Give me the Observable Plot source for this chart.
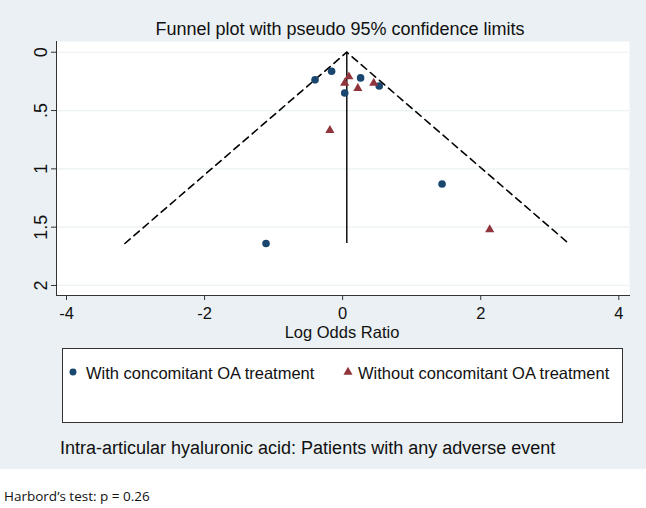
<!DOCTYPE html>
<html>
<head>
<meta charset="utf-8">
<script src="https://cdn.jsdelivr.net/npm/d3@7"></script>
<script src="https://cdn.jsdelivr.net/npm/@observablehq/plot@0.6"></script>
<style>
  body { margin: 0; background: #ffffff; }
  #wrap { position: relative; width: 646px; height: 508px; overflow: hidden; font-family: "Liberation Sans", Arial, sans-serif; }
  #bg { position: absolute; left: 0; top: 0; width: 646px; height: 469px; background: #eaf0f3; }
  #chart { position: absolute; left: 0; top: 0; }
  .abs { position: absolute; white-space: nowrap; color: #111; line-height: 1; }
  #title { left: 0; width: 680px; top: 20px; text-align: center; font-size: 18px; }
  #xlabel { left: 0; width: 684px; top: 324px; text-align: center; font-size: 16.5px; }
  #legend { left: 62px; top: 348px; width: 559px; height: 73px; background: #fff; border: 1px solid #333; }
  #caption { left: 60px; top: 439px; font-size: 18px; }
  #note { left: 4px; top: 490px; font-size: 13.5px; font-family: "Open Sans", "Noto Sans", sans-serif; color: #111; }
  .leg { position: absolute; top: 16px; font-size: 16.5px; line-height: 1; }
</style>
</head>
<body>
<div id="wrap">
  <div id="bg"></div>
  <div id="chart"></div>
  <div class="abs" id="title"></div>
  <div class="abs" id="xlabel"></div>
  <div class="abs" id="legend"></div>
  <div class="abs" id="caption"></div>
  <div class="abs" id="note"></div>
</div>
<script>
// ---- data ----
const titleText = "Funnel plot with pseudo 95% confidence limits";
const xLabelText = "Log Odds Ratio";
const captionText = "Intra-articular hyaluronic acid: Patients with any adverse event";
const noteText = "Harbord\u2019s test: p = 0.26";
const seriesNames = ["With concomitant OA treatment", "Without concomitant OA treatment"];
const seriesColors = ["#1a476f", "#90353b"];

// With concomitant OA treatment (circles): log odds ratio, standard error
const withLogOR = [-0.40, -0.16, 0.26, 0.53, 0.03, 1.44, -1.11];
const withSE    = [0.237, 0.163, 0.22, 0.29, 0.35, 1.13, 1.64];
// Without concomitant OA treatment (triangles)
const withoutLogOR = [0.09, 0.03, 0.45, 0.22, -0.185, 2.13];
const withoutSE    = [0.21, 0.265, 0.265, 0.31, 0.67, 1.52];

// pooled estimate and funnel extent
const pooledLogOR = 0.06;
const funnelSE = [0, 1.64];

const xTicks = [-4, -2, 0, 2, 4];
const xTickLabels = ["-4", "-2", "0", "2", "4"];
const yTicks = [0, 0.5, 1, 1.5, 2];
const yTickLabels = ["0", ".5", "1", "1.5", "2"];

// ---- build ----
const withData = withLogOR.map((x, i) => ({x, se: withSE[i]}));
const withoutData = withoutLogOR.map((x, i) => ({x, se: withoutSE[i]}));
const seMax = d3.max(funnelSE);
const limits = [{x: pooledLogOR - 1.96 * seMax, se: seMax}, {x: pooledLogOR, se: 0}, {x: pooledLogOR + 1.96 * seMax, se: seMax}];

const plot = Plot.plot({
  width: 646,
  height: 340,
  marginLeft: 56,
  marginRight: 17,
  marginTop: 41,
  marginBottom: 45,
  style: {background: "transparent", fontFamily: "'Liberation Sans', Arial, sans-serif", fontSize: "16px", color: "#111"},
  x: {domain: [-4.145, 4.155]},
  y: {domain: [-0.092, 2.086], reverse: true},
  marks: [
    Plot.frame({fill: "white", stroke: null}),
    Plot.ruleY(yTicks, {stroke: "#eaf2f3", strokeWidth: 1.2}),
    Plot.axisX({ticks: xTicks, tickSize: 5, tickPadding: 7, label: null, fontSize: 16.5, stroke: "#333",
                tickFormat: d => xTickLabels[xTicks.indexOf(d)]}),
    Plot.axisY({ticks: yTicks, tickSize: 5, tickPadding: 5, tickRotate: -90, label: null, fontSize: 18,
                tickFormat: d => yTickLabels[yTicks.indexOf(d)], stroke: "#333"}),
    Plot.frame({anchor: "left", stroke: "#333"}),
    Plot.frame({anchor: "bottom", stroke: "#333"}),
    Plot.line(limits, {x: "x", y: "se", stroke: "#000", strokeWidth: 1.6, strokeDasharray: "7,5"}),
    Plot.ruleX([pooledLogOR], {y1: funnelSE[0], y2: funnelSE[1], stroke: "#000", strokeWidth: 1.4}),
    Plot.dot(withData, {x: "x", y: "se", r: 3.8, fill: seriesColors[0], stroke: null, symbol: "circle"}),
    Plot.dot(withoutData, {x: "x", y: "se", r: 3.4, fill: seriesColors[1], stroke: null, symbol: "triangle"})
  ]
});
document.getElementById("chart").appendChild(plot);

document.getElementById("title").textContent = titleText;
document.getElementById("xlabel").textContent = xLabelText;
document.getElementById("caption").textContent = captionText;
document.getElementById("note").textContent = noteText;

// legend
const legend = document.getElementById("legend");
const legendPos = [{sym: 3, text: 23}, {sym: 278, text: 295}];
const symbolTypes = [d3.symbolCircle, d3.symbolTriangle];
seriesNames.forEach((name, i) => {
  const svg = d3.create("svg").attr("width", 14).attr("height", 14)
    .style("position", "absolute").style("left", legendPos[i].sym + "px").style("top", "16px");
  svg.append("path").attr("transform", "translate(7,7)")
    .attr("d", d3.symbol(symbolTypes[i], i === 0 ? 38 : 36)())
    .attr("fill", seriesColors[i]);
  legend.appendChild(svg.node());
  const t = document.createElement("div");
  t.className = "leg";
  t.style.left = legendPos[i].text + "px";
  t.textContent = name;
  legend.appendChild(t);
});
</script>
</body>
</html>
